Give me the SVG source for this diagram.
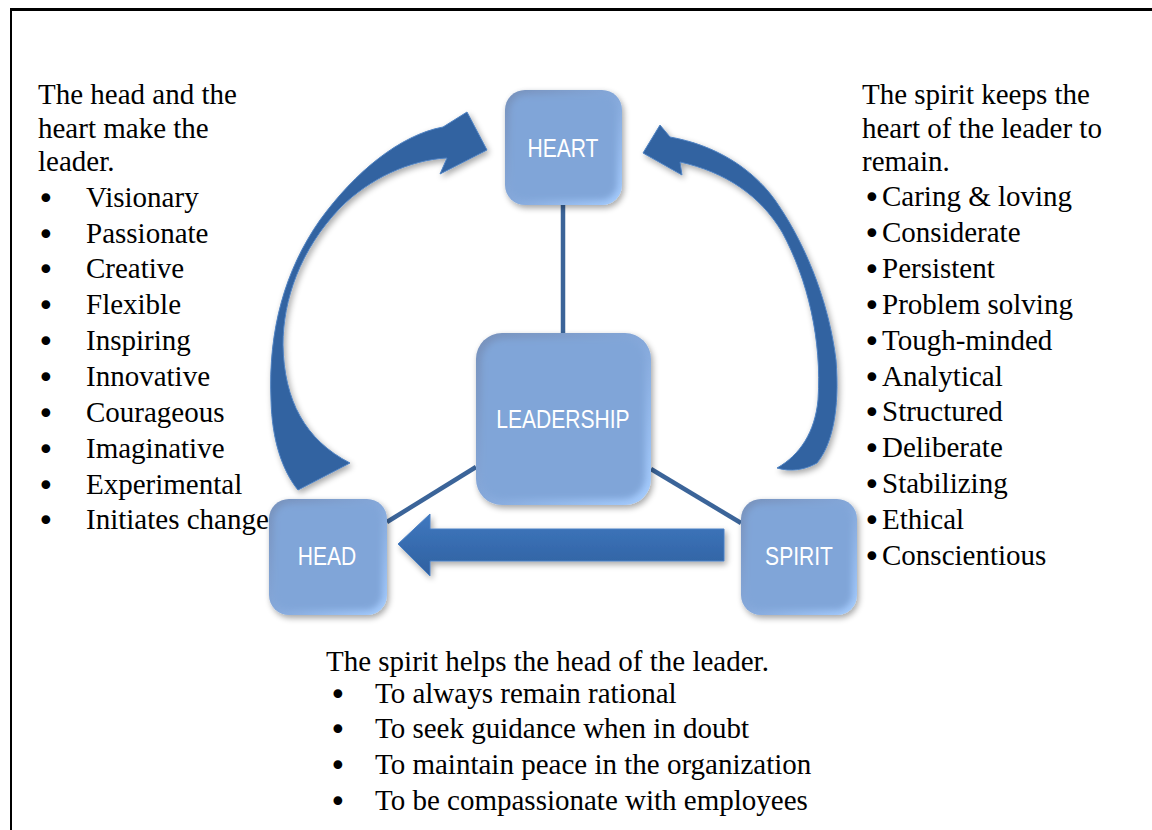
<svg xmlns="http://www.w3.org/2000/svg" width="1152" height="830" viewBox="0 0 1152 830">
  <defs>
    <style>
      .body { font-family: "Liberation Serif", "Times New Roman", serif; font-size: 29px; fill: #000; }
      .dot { font-family: "DejaVu Sans", "Liberation Sans", sans-serif; font-size: 30px; fill: #000; }
      .label { font-family: "Liberation Sans", Arial, sans-serif; font-size: 26px; fill: #ffffff; text-anchor: middle; }
      .link { stroke: #3b6499; stroke-width: 4.5; fill: none; }
      .curve { fill: #3263a1; stroke: #4f82c2; stroke-width: 1; }
    </style>
    <linearGradient id="bevel" x1="0" y1="0" x2="1" y2="1">
      <stop offset="0" stop-color="#7791bb"/>
      <stop offset="0.5" stop-color="#85a8da"/>
      <stop offset="1" stop-color="#a6cdff"/>
    </linearGradient>
    <linearGradient id="barFill" x1="0" y1="0" x2="0" y2="1">
      <stop offset="0" stop-color="#3f78c0"/>
      <stop offset="1" stop-color="#2f609f"/>
    </linearGradient>
    <filter id="soft" x="-10%" y="-10%" width="120%" height="120%">
      <feGaussianBlur stdDeviation="3"/>
    </filter>
    <filter id="shadow" x="-20%" y="-20%" width="140%" height="140%">
      <feGaussianBlur in="SourceAlpha" stdDeviation="3"/>
      <feOffset dx="2" dy="3" result="b"/>
      <feComponentTransfer><feFuncA type="linear" slope="0.35"/></feComponentTransfer>
      <feMerge><feMergeNode/><feMergeNode in="SourceGraphic"/></feMerge>
    </filter>
  </defs>

  <rect width="1152" height="830" fill="#ffffff"/>

  <!-- page frame -->
  <line x1="11" y1="9.5" x2="1152" y2="9.5" stroke="#000" stroke-width="3"/>
  <line x1="11" y1="8" x2="11" y2="830" stroke="#000" stroke-width="2"/>

  <!-- connectors -->
  <g id="connectors">
    <line class="link" x1="563" y1="205" x2="563" y2="334"/>
    <line class="link" x1="387" y1="522" x2="476" y2="467"/>
    <line class="link" x1="651" y1="469" x2="741" y2="523"/>
    <!-- spirit to head block arrow -->
    <path filter="url(#shadow)" fill="url(#barFill)" stroke="#4a80c4" stroke-width="1" d="M724 529 L430 529 L430 514 L398 544 L430 576 L430 561 L724 561 Z"/>
    <!-- head to heart curved arrow -->
    <path class="curve" filter="url(#shadow)" d="M298 490 C282 470 272 440 271 400 C268 330 285 270 320 220 C355 172 400 135 443 127 L467 112 L487 150 L440 174 L447 158 C410 160 370 178 340 208 C300 250 283 300 283 345 C284 400 305 440 350 463 Z"/>
    <!-- spirit to heart curved arrow -->
    <path class="curve" filter="url(#shadow)" d="M777 468 C800 455 815 432 818 400 C822 340 808 280 782 232 C760 195 725 172 680 162 L682 175 L643 153 L660 125 L670 137 C715 145 752 168 775 200 C810 250 830 310 836 360 C840 410 832 445 817 463 C805 470 790 472 777 468 Z"/>
  </g>

  <!-- nodes -->
  <g id="heart">
    <rect x="505" y="90" width="117" height="115" rx="20" fill="url(#bevel)" filter="url(#shadow)"/>
    <rect x="510" y="95" width="107" height="105" rx="16" fill="#80a5d8" filter="url(#soft)"/>
    <text class="label" transform="translate(563 157) scale(0.81 1)">HEART</text>
  </g>
  <g id="leadership">
    <rect x="476" y="333" width="175" height="172" rx="26" fill="url(#bevel)" filter="url(#shadow)"/>
    <rect x="482" y="339" width="163" height="160" rx="22" fill="#80a5d8" filter="url(#soft)"/>
    <text class="label" transform="translate(563 428) scale(0.81 1)">LEADERSHIP</text>
  </g>
  <g id="head">
    <rect x="269" y="499" width="118" height="116" rx="20" fill="url(#bevel)" filter="url(#shadow)"/>
    <rect x="274" y="504" width="108" height="106" rx="16" fill="#80a5d8" filter="url(#soft)"/>
    <text class="label" transform="translate(327 565) scale(0.81 1)">HEAD</text>
  </g>
  <g id="spirit">
    <rect x="741" y="499" width="116" height="116" rx="20" fill="url(#bevel)" filter="url(#shadow)"/>
    <rect x="746" y="504" width="106" height="106" rx="16" fill="#80a5d8" filter="url(#soft)"/>
    <text class="label" transform="translate(799 565) scale(0.81 1)">SPIRIT</text>
  </g>

  <!-- left notes: head and heart -->
  <g id="note-left">
    <g class="body">
      <text x="38" y="104">The head and the</text>
      <text x="38" y="138">heart make the</text>
      <text x="38" y="171">leader.</text>
      <text x="86" y="207">Visionary</text>
      <text x="86" y="243">Passionate</text>
      <text x="86" y="278">Creative</text>
      <text x="86" y="314">Flexible</text>
      <text x="86" y="350">Inspiring</text>
      <text x="86" y="386">Innovative</text>
      <text x="86" y="422">Courageous</text>
      <text x="86" y="458">Imaginative</text>
      <text x="86" y="494">Experimental</text>
      <text x="86" y="529">Initiates change</text>
    </g>
    <g class="dot">
      <text x="37" y="209">•</text>
      <text x="37" y="245">•</text>
      <text x="37" y="280">•</text>
      <text x="37" y="316">•</text>
      <text x="37" y="352">•</text>
      <text x="37" y="388">•</text>
      <text x="37" y="424">•</text>
      <text x="37" y="460">•</text>
      <text x="37" y="496">•</text>
      <text x="37" y="531">•</text>
    </g>
  </g>

  <!-- right notes: spirit and heart -->
  <g id="note-right">
    <g class="body">
      <text x="862" y="104">The spirit keeps the</text>
      <text x="862" y="138">heart of the leader to</text>
      <text x="862" y="171">remain.</text>
      <text x="882" y="206">Caring &amp; loving</text>
      <text x="882" y="242">Considerate</text>
      <text x="882" y="278">Persistent</text>
      <text x="882" y="314">Problem solving</text>
      <text x="882" y="350">Tough-minded</text>
      <text x="882" y="386">Analytical</text>
      <text x="882" y="421">Structured</text>
      <text x="882" y="457">Deliberate</text>
      <text x="882" y="493">Stabilizing</text>
      <text x="882" y="529">Ethical</text>
      <text x="882" y="565">Conscientious</text>
    </g>
    <g class="dot">
      <text x="863" y="208">•</text>
      <text x="863" y="244">•</text>
      <text x="863" y="280">•</text>
      <text x="863" y="316">•</text>
      <text x="863" y="352">•</text>
      <text x="863" y="388">•</text>
      <text x="863" y="423">•</text>
      <text x="863" y="459">•</text>
      <text x="863" y="495">•</text>
      <text x="863" y="531">•</text>
      <text x="863" y="567">•</text>
    </g>
  </g>

  <!-- bottom notes: spirit and head -->
  <g id="note-bottom">
    <g class="body">
      <text x="326" y="671">The spirit helps the head of the leader.</text>
      <text x="375" y="703">To always remain rational</text>
      <text x="375" y="738">To seek guidance when in doubt</text>
      <text x="375" y="774">To maintain peace in the organization</text>
      <text x="375" y="810">To be compassionate with employees</text>
    </g>
    <g class="dot">
      <text x="329" y="705">•</text>
      <text x="329" y="740">•</text>
      <text x="329" y="776">•</text>
      <text x="329" y="812">•</text>
    </g>
  </g>
</svg>
